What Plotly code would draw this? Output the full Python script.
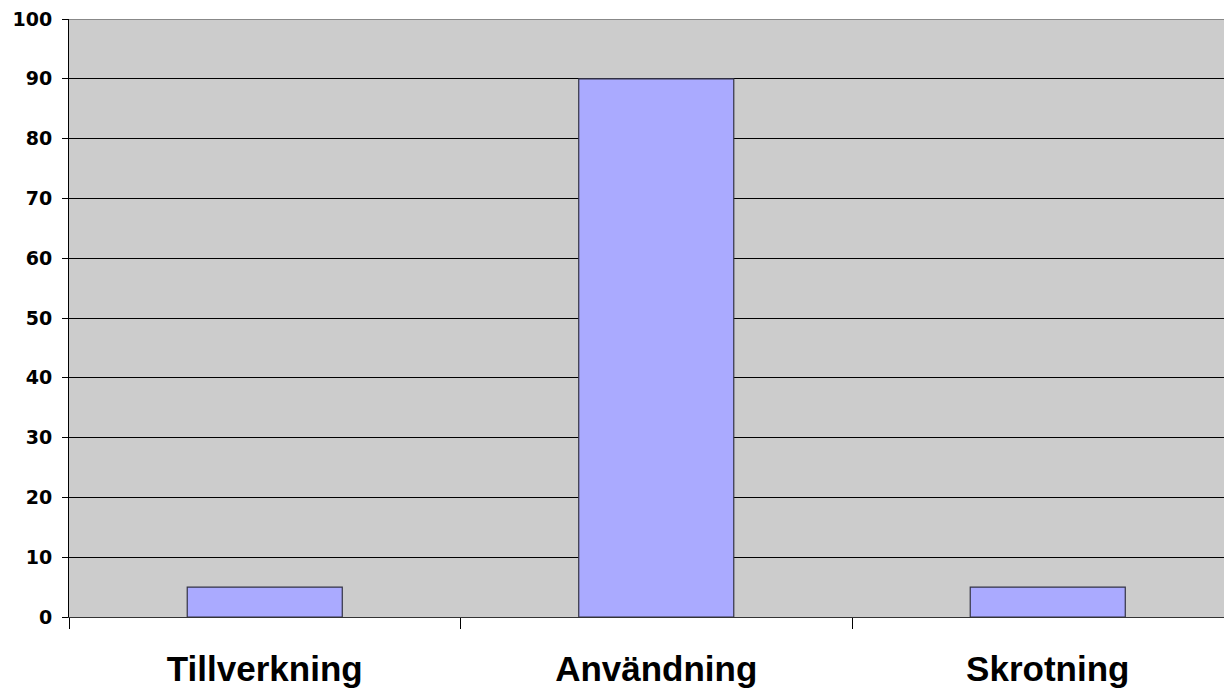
import plotly.graph_objects as go

categories = ["Tillverkning", "Användning", "Skrotning"]
values = [5, 90, 5]
y_ticks = [0, 10, 20, 30, 40, 50, 60, 70, 80, 90, 100]

L, T, R, B = 69, 19, 0, 74
W, H = 1224, 691
plot_w = W - L - R

fig = go.Figure()
fig.add_trace(go.Bar(
    x=categories, y=values, width=0.396,
    marker=dict(color="#AAAAFF", line=dict(color="#333344", width=1.2)),
    showlegend=False,
))

fig.update_layout(
    width=W, height=H,
    margin=dict(l=L, r=R, t=T, b=B),
    paper_bgcolor="white", plot_bgcolor="#CCCCCC",
    shapes=[dict(type="line", xref="paper", yref="y", x0=0, x1=1, y0=100, y1=100,
                 line=dict(color="#888888", width=2), layer="above")],
)
fig.update_xaxes(
    type="category", range=[-0.5, -0.5 + plot_w / 391.5],
    showgrid=False, showline=True, linecolor="#333333", linewidth=1,
    ticks="outside", tickson="boundaries", ticklen=11, tickcolor="black", tickwidth=1,
    tickfont=dict(family="Liberation Sans, Arial", size=35, color="black"),
    tickprefix="<b>", ticksuffix="</b>",
    ticklabelstandoff=21,
)
fig.update_yaxes(
    range=[0, 100], tickvals=y_ticks, ticktext=[f"<b>{v}</b>" for v in y_ticks],
    showgrid=True, gridcolor="black", gridwidth=1, zeroline=False,
    showline=True, linecolor="black", linewidth=1,
    ticks="outside", ticklen=6, tickcolor="black", tickwidth=1,
    tickfont=dict(family="DejaVu Sans, Verdana", size=19, color="black"),
    ticklabelstandoff=6, ticklabeloverflow="allow",
)

fig.write_html(
    "out.html",
    config={"displayModeBar": False},
    post_script="document.body.style.margin='0';document.body.style.overflow='hidden';",
)
